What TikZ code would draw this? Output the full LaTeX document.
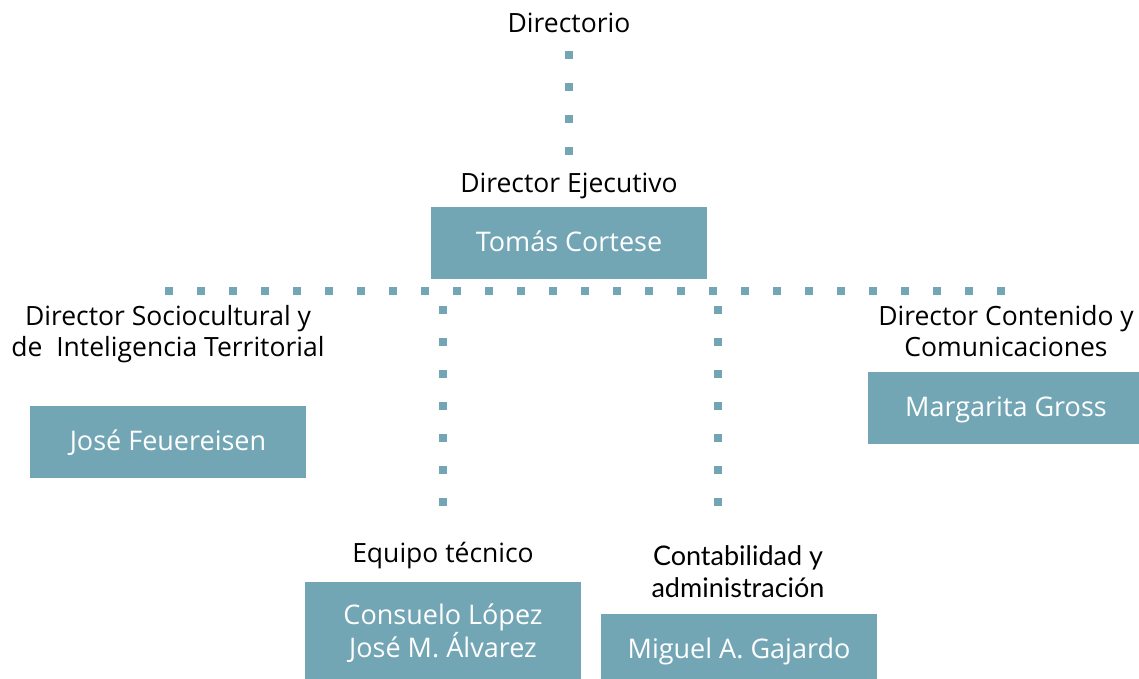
\documentclass[tikz,border=0pt]{standalone}
\usepackage{fontspec}
\setmainfont{Open Sans}
\newfontfamily\latofont{Lato}
\definecolor{orgblue}{HTML}{72A6B5}
\begin{document}
\begin{tikzpicture}[x=1pt, y=-1pt,
        label/.style={anchor=base, align=center, inner sep=0pt, font=\fontsize{26.5}{31}\selectfont},
        box/.style={fill=orgblue, text=white, align=center, minimum width=276pt, inner xsep=0pt,
            inner ysep=18pt, text height=26pt, text depth=10pt, font=\fontsize{27}{31}\selectfont},
        dotline/.style={draw=orgblue, line width=8pt, dash pattern=on 8pt off 24pt}]
    \clip (0, 0) rectangle (1139, 679);
    % titles (multi-line ones sit on their last baseline)
    \node[label] (directorio) at (569, 33) {Directorio};
    \node[label] (ejecutivo) at (569, 193) {Director Ejecutivo};
    \node[label] (sociocultural) at (168, 356) {Director Sociocultural y\\de\ \ Inteligencia Territorial};
    \node[label] (contenido) at (1006, 356) {Director Contenido y\\Comunicaciones};
    \node[label] (tecnico) at (443, 562) {Equipo técnico};
    \node[label, font=\latofont\fontsize{27}{32}\selectfont] (contabilidad) at (738, 597) {Contabilidad y\\administración};
    % boxes
    \node[box] (cortese) at (569, 243) {Tomás Cortese};
    \node[box] (feuereisen) at (168, 442) {José Feuereisen};
    \node[box] (gross) at (1006, 408) {Margarita Gross};
    \node[box, anchor=north, text height=57pt, text depth=40pt] (equipo) at (443, 582) {Consuelo López\\José M. Álvarez};
    \node[box, anchor=north] (gajardo) at (739, 614) {Miguel A. Gajardo};
    % dotted connectors
    \coordinate (dir-top) at (569, 51);
    \coordinate (dir-bottom) at (569, 159);
    \coordinate (bus-west) at (165, 291);
    \coordinate (bus-east) at (1005, 291);
    \coordinate (tec-top) at (443, 306);
    \coordinate (tec-bottom) at (443, 506);
    \coordinate (adm-top) at (718, 306);
    \coordinate (adm-bottom) at (718, 506);
    \draw[dotline] (dir-top) -- (dir-bottom);
    \draw[dotline] (bus-west) -- (bus-east);
    \draw[dotline] (tec-top) -- (tec-bottom);
    \draw[dotline] (adm-top) -- (adm-bottom);
\end{tikzpicture}
\end{document}
